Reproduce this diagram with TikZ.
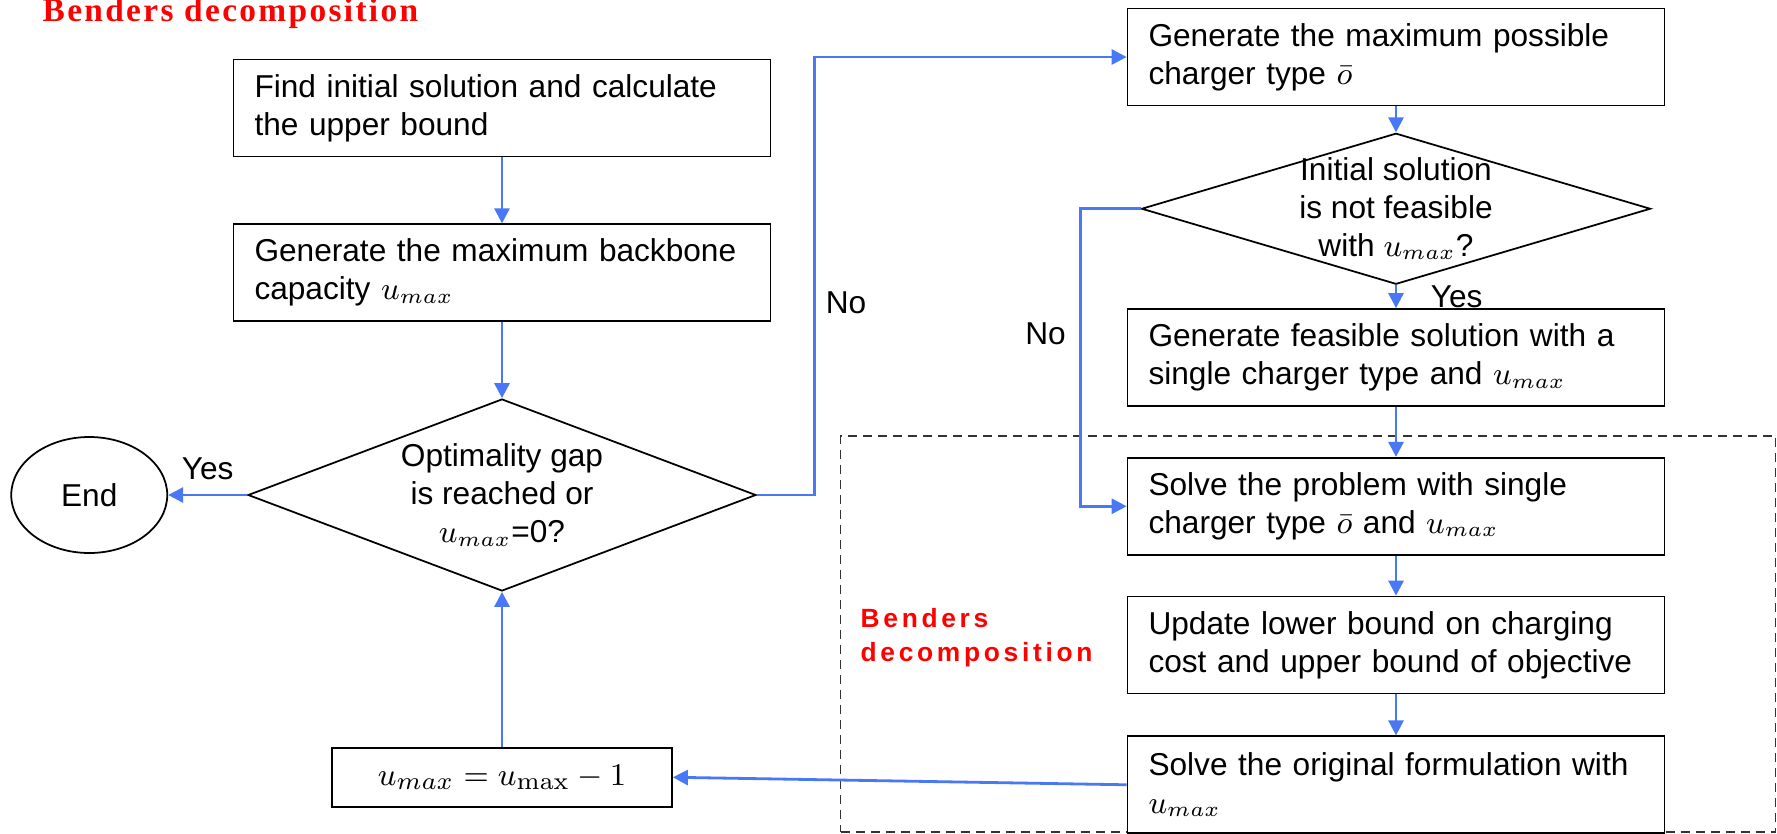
\documentclass[tikz,border=0pt]{standalone}
\usepackage{amsmath}
\usepackage[no-math]{fontspec}
\setmainfont{Liberation Sans}
\newfontfamily\serifhead[LetterSpace=7]{Liberation Serif}
\newfontfamily\sanshead[LetterSpace=14]{Liberation Sans}
\usetikzlibrary{arrows.meta,positioning,shapes.geometric}
\definecolor{flowblue}{RGB}{72,120,245}
\newcommand{\umax}{u_{max}}

\begin{document}
\begin{tikzpicture}[
  x=0.1mm,y=-0.1mm,
  font=\fontsize{9}{10.8}\selectfont,
  box/.style={draw=black,line width=0.5pt,align=left,text width=49.5mm,inner xsep=2.1mm,
              inner ysep=0pt,minimum height=9.7mm,fill=white},
  cond/.style={draw=black,line width=0.5pt,diamond,inner sep=0pt,fill=white},
  dtext/.style={align=center,inner sep=0pt},
  arr/.style={-{Triangle[length=1.5mm,width=1.5mm]},flowblue,line width=0.28mm},
  lab/.style={inner sep=1pt,text=black},
  redlab/.style={text=red,font=\sanshead\bfseries\fontsize{7.5}{9.7}\selectfont,align=left,inner sep=0pt}
]
\useasboundingbox (0,0) rectangle (1777,834);

\node[anchor=base west,inner sep=0pt,text=red,font=\serifhead\bfseries\fontsize{9.5}{11}\selectfont]
  (title) at (42,22) {Benders decomposition};

% benders part (drawn first, arrows cross it)
\node[draw=black!80,dashed,dash pattern=on 0.9mm off 0.6mm,line width=0.45pt,
      minimum width=93.5mm,minimum height=39.6mm] (bend) at (1308,634) {};
\node[redlab,anchor=north west] (benlab) at (860,608) {Benders\\decomposition};

% outer loop
\node[box] (init) at (502,108) {Find initial solution and calculate\\the upper bound};
\node[box,below=6.6mm of init] (ubound) {Generate the maximum backbone\\capacity $\umax$};
\node[cond,minimum width=50.8mm,minimum height=19.2mm,below=7.6mm of ubound,
      label={[dtext]center:Optimality gap\\is reached or\\$\umax$=0?}] (gap) {};
\node[draw,ellipse,line width=0.5pt,minimum width=15.6mm,minimum height=11.6mm,
      left=7.9mm of gap] (endnode) {End};
\node[draw,line width=0.5pt,minimum width=34mm,minimum height=5.9mm,below=15.5mm of gap,
      font=\fontsize{9.5}{11}\selectfont] (dec) {$\umax = u_{\max} - 1$};

\draw[arr] (init) -- (ubound);
\draw[arr] (ubound) -- (gap);
\draw[arr] (gap) -- node[lab,above=1mm]{Yes} (endnode);
\draw[arr] (dec) -- (gap);

% charger type steps
\node[box] (maxtype) at (1396,57) {Generate the maximum possible\\charger type $\bar{o}$};
\node[cond,minimum width=50.9mm,minimum height=15.1mm,below=2.6mm of maxtype,
      label={[dtext]center:Initial solution\\is not feasible\\with $\umax$?}] (feas) {};
\node[box,below=2.3mm of feas] (single) {Generate feasible solution with a\\single charger type and $\umax$};
\node[box,below=5mm of single] (solve) {Solve the problem with single\\charger type $\bar{o}$ and $\umax$};
\node[box,below=4mm of solve] (lower) {Update lower bound on charging\\cost and upper bound of objective};
\node[box,below=4.1mm of lower] (orig) {Solve the original formulation with\\$\umax$};

\draw[arr] (maxtype) -- (feas);
\draw[arr] (feas) -- node[lab,right=3mm]{Yes} (single);
\draw[arr] (single) -- (solve);
\draw[arr] (solve) -- (lower);
\draw[arr] (lower) -- (orig);
\draw[arr] (orig.west) -- (dec.east);
\draw[arr] (gap.east) -- ++(58,0) |- node[lab,right=0.6mm,pos=0.22]{No} (maxtype.west);
\draw[arr] (feas.west) -- ++(-60,0) |- node[lab,left=1mm,pos=0.21]{No} (solve.west);
\end{tikzpicture}
\end{document}
